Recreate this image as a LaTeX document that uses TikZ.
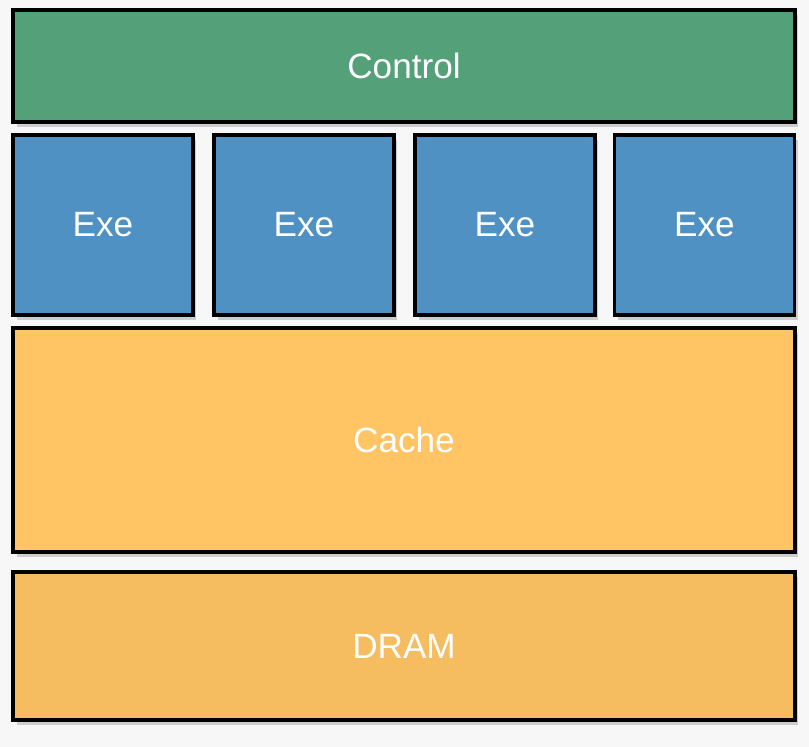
\documentclass[tikz,border=0pt]{standalone}
\usepackage{fontspec}
\setmainfont{Liberation Sans}
\usepackage{tikz}
\usetikzlibrary{shadows,backgrounds}

\definecolor{ctrlgreen}{RGB}{84,160,120}
\definecolor{exeblue}{RGB}{80,145,195}
\definecolor{cacheorange}{RGB}{255,196,100}
\definecolor{dramorange}{RGB}{246,188,96}

\tikzset{
  block/.style={draw=black, line width=2pt, inner sep=0pt, text=white,
    font=\fontsize{20}{24}\selectfont,
    drop shadow={shadow xshift=2pt, shadow yshift=-3pt, opacity=0.35}},
  exebox/.style={block, fill=exeblue, minimum width=3.6cm, minimum height=3.6cm}
}

\begin{document}
\begin{tikzpicture}[x=0.02cm,y=-0.02cm]
		\fill[gray!6] (0,0) rectangle (809,747);
		\useasboundingbox (0,0) rectangle (809,747);
		% control unit
		\node[block, fill=ctrlgreen, minimum width=15.64cm, minimum height=2.24cm] (control) at (404,66) {Control};
		% execution units
		\node[exebox] (exe1) at (103,225) {Exe};
		\node[exebox] (exe2) at (304,225) {Exe};
		\node[exebox] (exe3) at (505,225) {Exe};
		\node[exebox] (exe4) at (704.5,225) {Exe};
		% memory
		\node[block, fill=cacheorange, minimum width=15.64cm, minimum height=4.48cm] (cache) at (404,440) {Cache};
		\node[block, fill=dramorange, minimum width=15.64cm, minimum height=2.96cm] (dram) at (404,646) {DRAM};
	\end{tikzpicture}
\end{document}
